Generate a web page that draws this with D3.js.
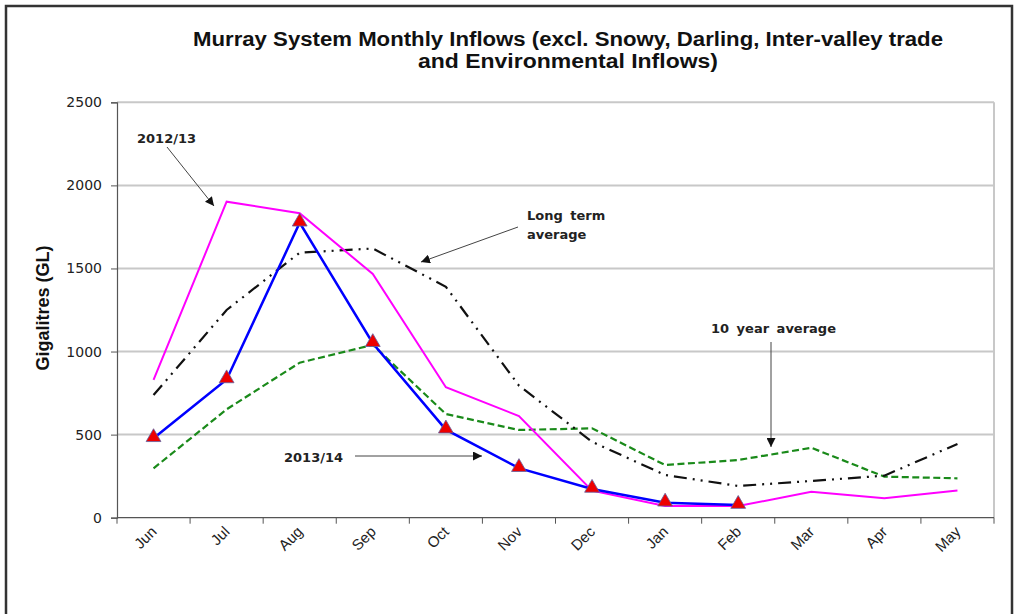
<!DOCTYPE html>
<html>
<head>
<meta charset="utf-8">
<script src="https://cdn.jsdelivr.net/npm/d3@7"></script>
<style>
  html, body { margin: 0; padding: 0; background: #fff; }
  svg { display: block; }
</style>
</head>
<body>
<svg id="chart" width="1018" height="614"></svg>
<script>
// ---- Data ----
const months = ["Jun","Jul","Aug","Sep","Oct","Nov","Dec","Jan","Feb","Mar","Apr","May"];
const yTicks = [0, 500, 1000, 1500, 2000, 2500];
const series2012 = [829, 1902, 1832, 1467, 785, 612, 163, 70, 70, 156, 117, 163];
const series2013 = [478, 832, 1775, 1050, 530, 298, 173, 90, 76];
const longTermAvg = [738, 1250, 1595, 1620, 1390, 795, 457, 257, 191, 221, 253, 444];
const tenYearAvg = [297, 652, 933, 1040, 624, 528, 538, 317, 347, 421, 247, 237];

const titleLines = ["Murray System Monthly Inflows (excl. Snowy, Darling, Inter-valley trade", "and Environmental Inflows)"];
const yTitle = "Gigalitres (GL)";

// ---- Layout ----
const svg = d3.select("#chart");
const pLeft = 117, pRight = 994, pTop = 102.3, pBottom = 517.7;

const x = d3.scaleBand().domain(months).range([pLeft, pRight]).paddingInner(0).paddingOuter(0);
const y = d3.scaleLinear().domain([0, 2500]).range([pBottom, pTop]);
const cx = m => x(m) + x.bandwidth() / 2;

// frame
svg.append("path")
  .attr("d", "M6,620 L6,6 L1012,6 L1012,620")
  .attr("fill", "none").attr("stroke", "#333").attr("stroke-width", 2.5);

// title
const titleWidths = [750, 300];
svg.append("g").selectAll("text").data(titleLines).join("text")
  .attr("x", 568).attr("y", (d, i) => 46 + i * 22)
  .attr("text-anchor", "middle")
  .attr("font-family", "Liberation Sans, Arial, sans-serif")
  .attr("font-weight", "bold").attr("font-size", 20)
  .attr("textLength", (d, i) => titleWidths[i])
  .attr("lengthAdjust", "spacingAndGlyphs")
  .attr("fill", "#111")
  .text(d => d);

// gridlines
svg.append("g").selectAll("line").data(yTicks.filter(d => d > 0)).join("line")
  .attr("x1", pLeft).attr("x2", pRight)
  .attr("y1", d => y(d)).attr("y2", d => y(d))
  .attr("stroke", "#c8c8c8").attr("stroke-width", 2);

// plot area right border
svg.append("line").attr("x1", pRight).attr("x2", pRight).attr("y1", pTop).attr("y2", pBottom)
  .attr("stroke", "#c8c8c8").attr("stroke-width", 2);

// y axis
const yAxis = d3.axisLeft(y).tickValues(yTicks).tickFormat(d3.format("d")).tickSize(6).tickPadding(9);
const gy = svg.append("g").attr("transform", `translate(${pLeft},0)`).call(yAxis);
gy.select(".domain").attr("stroke", "#555").attr("stroke-width", 1.2);
gy.selectAll(".tick line").attr("stroke", "#555");
gy.selectAll("text").attr("font-family", "DejaVu Sans, sans-serif").attr("font-size", 14).attr("fill", "#222");

// x axis (ticks at category boundaries)
const boundaries = months.map(m => x(m)).concat([pRight]);
const gx = svg.append("g");
gx.append("line").attr("x1", pLeft).attr("x2", pRight).attr("y1", pBottom).attr("y2", pBottom)
  .attr("stroke", "#555").attr("stroke-width", 1.2);
gx.selectAll("line.t").data(boundaries).join("line").attr("class", "t")
  .attr("x1", d => d).attr("x2", d => d).attr("y1", pBottom).attr("y2", pBottom + 6)
  .attr("stroke", "#555");
gx.selectAll("text").data(months).join("text")
  .attr("transform", d => `translate(${cx(d) + 4},${pBottom + 15}) rotate(-45)`)
  .attr("text-anchor", "end")
  .attr("font-family", "Liberation Sans, Arial, sans-serif")
  .attr("font-size", 15).attr("fill", "#222")
  .text(d => d);

// y title
svg.append("text")
  .attr("transform", `translate(49,308) rotate(-90)`)
  .attr("text-anchor", "middle")
  .attr("font-family", "Liberation Sans, Arial, sans-serif")
  .attr("font-weight", "bold").attr("font-size", 18).attr("fill", "#111")
  .text(yTitle);

// lines
const line = d3.line().x((d, i) => cx(months[i])).y(d => y(d));

svg.append("path").datum(tenYearAvg).attr("d", line)
  .attr("fill", "none").attr("stroke", "#1a8a1a").attr("stroke-width", 2.2)
  .attr("stroke-dasharray", "7,3.5");

svg.append("path").datum(longTermAvg).attr("d", line)
  .attr("fill", "none").attr("stroke", "#111").attr("stroke-width", 2.2)
  .attr("stroke-dasharray", "13,6,2,6,2,6");

svg.append("path").datum(series2012).attr("d", line)
  .attr("fill", "none").attr("stroke", "#ff00ff").attr("stroke-width", 2);

svg.append("path").datum(series2013).attr("d", line)
  .attr("fill", "none").attr("stroke", "#0000ff").attr("stroke-width", 2.5);

// markers
const tri = d3.symbol().type(d3.symbolTriangle).size(95);
svg.append("g").selectAll("path").data(series2013).join("path")
  .attr("transform", (d, i) => `translate(${cx(months[i])},${y(d) - 1})`)
  .attr("d", tri)
  .attr("fill", "#ee0000").attr("stroke", "#6060a0").attr("stroke-width", 0.8);

// annotations
const defs = svg.append("defs");
defs.append("marker").attr("id", "arr").attr("viewBox", "0 0 10 10")
  .attr("refX", 10).attr("refY", 5).attr("markerWidth", 9).attr("markerHeight", 9)
  .attr("markerUnits", "userSpaceOnUse").attr("orient", "auto")
  .append("path").attr("d", "M0,0 L10,5 L0,10 z").attr("fill", "#111");

const annFont = "DejaVu Sans, Verdana, sans-serif";
function ann(lines, tx, ty, x1, y1, x2, y2) {
  const t = svg.append("text").attr("font-family", annFont).attr("font-weight", "bold")
    .attr("font-size", 13).attr("fill", "#222").attr("word-spacing", 3);
  lines.forEach((l, i) => t.append("tspan").attr("x", tx).attr("y", ty + i * 19).text(l));
  svg.append("line").attr("x1", x1).attr("y1", y1).attr("x2", x2).attr("y2", y2)
    .attr("stroke", "#444").attr("stroke-width", 1).attr("marker-end", "url(#arr)");
}
ann(["2012/13"], 137, 143, 167, 147, 214, 206);
ann(["Long term", "average"], 527, 220, 518, 227, 421, 262);
ann(["10 year average"], 711, 333, 771, 342, 771, 447);
ann(["2013/14"], 284, 462, 355, 456, 482, 456);
</script>
</body>
</html>
